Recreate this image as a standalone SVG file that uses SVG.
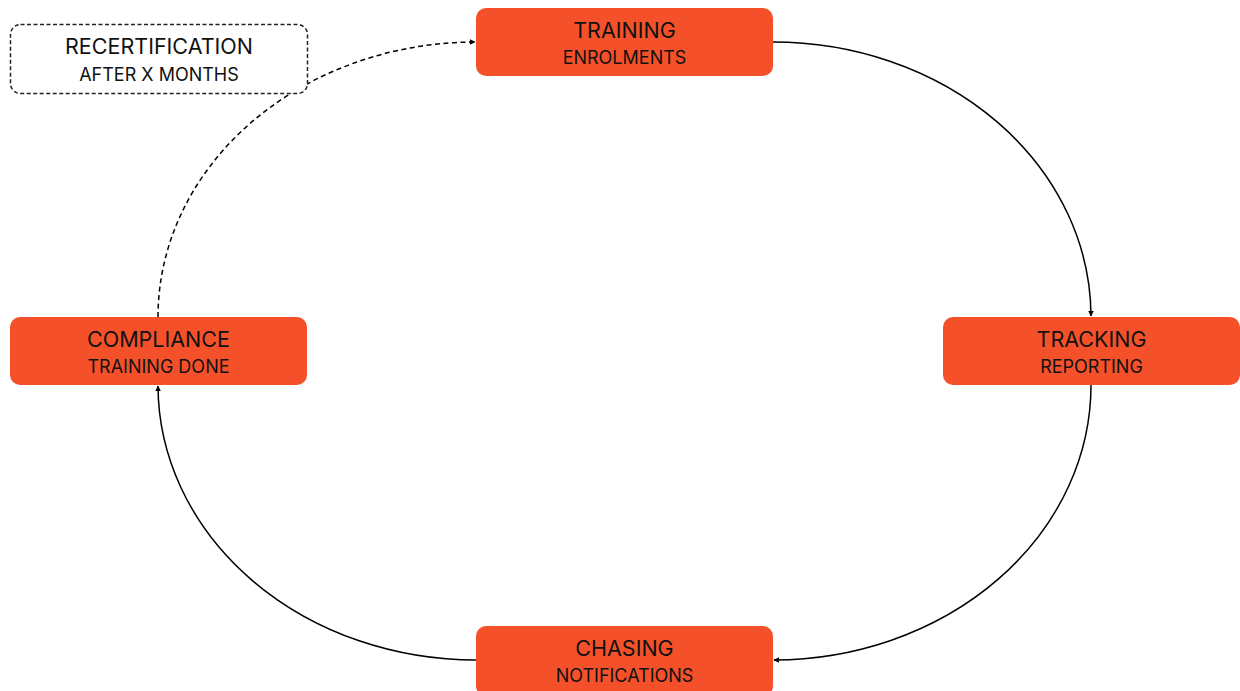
<svg xmlns="http://www.w3.org/2000/svg" width="1240" height="691" viewBox="0 0 1240 691">
<style>
.box{fill:#F4512B;}
.t1{font-family:Inter,"Liberation Sans",sans-serif;font-size:21.5px;fill:#111;text-anchor:middle;}
.t2{font-family:Inter,"Liberation Sans",sans-serif;font-size:18px;fill:#111;text-anchor:middle;}
.c{fill:none;stroke:#000;stroke-width:1.5;marker-end:url(#ah);}
.d{stroke-dasharray:5,3.5;}
</style>
<defs>
<marker id="ah" viewBox="0 0 10 10" refX="9" refY="5" markerWidth="6" markerHeight="6" orient="auto" markerUnits="userSpaceOnUse">
<path d="M0,0 L10,5 L0,10 z" fill="#000"/>
</marker>
</defs>
<rect width="1240" height="691" fill="#fff"/>
<g id="connectors">
<path class="c" d="M773,42 A318,275 0 0 1 1091,316"/>
<path class="c" d="M1091,385 A318,275 0 0 1 774,660"/>
<path class="c" d="M476,660 A318,275 0 0 1 158,386"/>
<path class="c d" d="M158,317 A318,275 0 0 1 475,42"/>
</g>
<g id="recert">
<rect x="10.5" y="24.5" width="297" height="69" rx="10" fill="#fff" stroke="#222" stroke-width="1.5" stroke-dasharray="4,2.5"/>
<text class="t1" x="159" y="54">RECERTIFICATION</text>
<text class="t2" x="159" y="81">AFTER X MONTHS</text>
</g>
<g id="training">
<rect class="box" x="476" y="8" width="297" height="68" rx="10"/>
<text class="t1" x="624.5" y="38">TRAINING</text>
<text class="t2" x="624.5" y="64">ENROLMENTS</text>
</g>
<g id="tracking">
<rect class="box" x="943" y="317" width="297" height="68" rx="10"/>
<text class="t1" x="1091.5" y="347">TRACKING</text>
<text class="t2" x="1091.5" y="373">REPORTING</text>
</g>
<g id="chasing">
<rect class="box" x="476" y="626" width="297" height="70" rx="10"/>
<text class="t1" x="624.5" y="656">CHASING</text>
<text class="t2" x="624.5" y="682">NOTIFICATIONS</text>
</g>
<g id="compliance">
<rect class="box" x="10" y="317" width="297" height="68" rx="10"/>
<text class="t1" x="158.5" y="347">COMPLIANCE</text>
<text class="t2" x="158.5" y="373">TRAINING DONE</text>
</g>
</svg>
